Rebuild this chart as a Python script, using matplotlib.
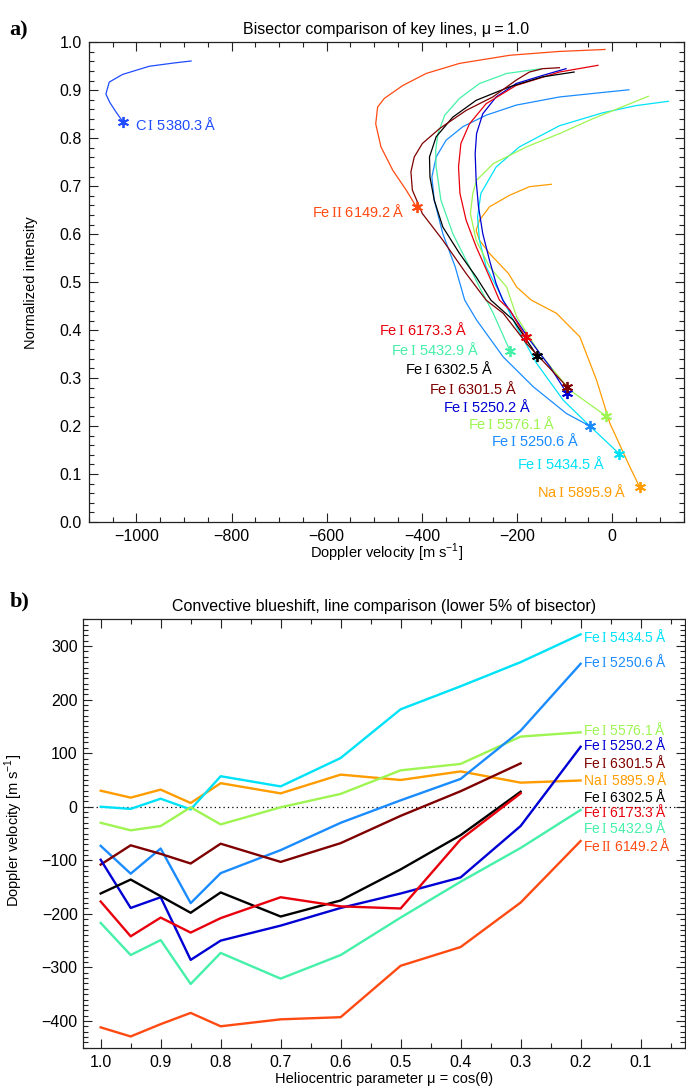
import matplotlib
matplotlib.use('Agg')
import matplotlib.pyplot as plt
from matplotlib.ticker import MultipleLocator, FormatStrFormatter

plt.rcParams['font.family'] = ['Liberation Sans', 'DejaVu Sans']
plt.rcParams['mathtext.fontset'] = 'custom'
plt.rcParams['mathtext.rm'] = 'Liberation Serif'
plt.rcParams['mathtext.sf'] = 'Liberation Sans'
plt.rcParams['axes.unicode_minus'] = True

# ---------------- Panel a: bisectors at mu = 1.0 ----------------
ci_v = [-1028, -1043, -1056, -1064, -1057, -1029, -973, -920, -885]
ci_I = [0.834, 0.855, 0.875, 0.892, 0.917, 0.933, 0.950, 0.957, 0.961]

fe2_v = [-411, -433, -461, -486, -497, -493, -479, -440, -391, -321, -215, -110, -15]
fe2_I = [0.656, 0.692, 0.733, 0.782, 0.830, 0.865, 0.883, 0.910, 0.935, 0.956, 0.973, 0.981, 0.985]

fe6173_v = [-182, -215, -237, -258, -286, -307, -320, -323, -318, -300, -265, -202, -111, -30]
fe6173_I = [0.385, 0.442, 0.4625, 0.511, 0.574, 0.629, 0.685, 0.740, 0.789, 0.830, 0.872, 0.910, 0.938, 0.952]

fe5432_v = [-215, -250, -279, -300, -335, -360, -370, -371, -366, -352, -321, -279, -222, -149]
fe5432_I = [0.357, 0.435, 0.490, 0.532, 0.601, 0.671, 0.740, 0.775, 0.810, 0.848, 0.883, 0.914, 0.935, 0.945]

fe6302_v = [-158, -208, -255, -286, -321, -356, -374, -383, -384, -370, -335, -286, -216, -146, -80]
fe6302_I = [0.347, 0.421, 0.4625, 0.511, 0.560, 0.615, 0.671, 0.719, 0.761, 0.803, 0.844, 0.879, 0.907, 0.928, 0.938]

fe6301_v = [-95, -180, -229, -265, -307, -356, -399, -420, -423, -416, -399, -363, -307, -251, -202, -174, -146, -111]
fe6301_I = [0.282, 0.372, 0.435, 0.4625, 0.518, 0.5875, 0.643, 0.692, 0.730, 0.761, 0.789, 0.820, 0.858, 0.886, 0.921, 0.938, 0.945, 0.947]

fe52502_v = [-95, -131, -173, -230, -244, -258, -272, -281, -286, -288, -285, -272, -244, -202, -146, -97]
fe52502_I = [0.268, 0.324, 0.379, 0.4625, 0.497, 0.546, 0.601, 0.657, 0.7125, 0.768, 0.810, 0.851, 0.886, 0.914, 0.931, 0.945]

fe5576_v = [-13, -89, -152, -201, -222, -258, -286, -298, -293, -285, -250, -180, -110, -40, 30, 76]
fe5576_I = [0.221, 0.275, 0.351, 0.428, 0.490, 0.532, 0.5875, 0.643, 0.685, 0.7125, 0.747, 0.782, 0.810, 0.841, 0.869, 0.8875]

fe52506_v = [-47, -96, -166, -229, -285, -310, -330, -356, -374, -379, -370, -349, -314, -265, -202, -111, -34, 35]
fe52506_I = [0.200, 0.226, 0.282, 0.344, 0.421, 0.4625, 0.532, 0.601, 0.671, 0.719, 0.761, 0.796, 0.824, 0.848, 0.869, 0.886, 0.894, 0.901]

fe5434_v = [15, -47, -103, -159, -201, -243, -265, -279, -283, -276, -244, -195, -111, -20, 50, 118]
fe5434_I = [0.142, 0.200, 0.254, 0.331, 0.407, 0.490, 0.532, 0.5875, 0.636, 0.685, 0.740, 0.782, 0.826, 0.853, 0.868, 0.877]

na_v = [58, 37, -5, -33, -68, -117, -170, -201, -218, -258, -279, -286, -279, -258, -216, -174, -128]
na_I = [0.072, 0.115, 0.206, 0.296, 0.386, 0.435, 0.4625, 0.490, 0.518, 0.560, 0.5875, 0.608, 0.629, 0.657, 0.681, 0.699, 0.704]

# line labels and colours
lbl_ci = 'C$\\,\\mathrm{I}$ 5380.3\u2009Å'
lbl_fe2 = 'Fe$\\,\\mathrm{II}$ 6149.2\u2009Å'
lbl_6173 = 'Fe$\\,\\mathrm{I}$ 6173.3\u2009Å'
lbl_5432 = 'Fe$\\,\\mathrm{I}$ 5432.9\u2009Å'
lbl_6302 = 'Fe$\\,\\mathrm{I}$ 6302.5\u2009Å'
lbl_6301 = 'Fe$\\,\\mathrm{I}$ 6301.5\u2009Å'
lbl_52502 = 'Fe$\\,\\mathrm{I}$ 5250.2\u2009Å'
lbl_5576 = 'Fe$\\,\\mathrm{I}$ 5576.1\u2009Å'
lbl_52506 = 'Fe$\\,\\mathrm{I}$ 5250.6\u2009Å'
lbl_5434 = 'Fe$\\,\\mathrm{I}$ 5434.5\u2009Å'
lbl_na = 'Na$\\,\\mathrm{I}$ 5895.9\u2009Å'

c_ci = '#1f4cff'
c_fe2 = '#ff4a12'
c_6173 = '#e8000c'
c_5432 = '#45f0a8'
c_6302 = '#000000'
c_6301 = '#7f0000'
c_52502 = '#0000d4'
c_5576 = '#9ef552'
c_52506 = '#1a8cff'
c_5434 = '#00e2f8'
c_na = '#ff9c00'

# label positions (layout) for panel a: (velocity, intensity, ha)
pos_a = {
    'ci': (-1003, 0.829, 'left'),
    'fe2': (-437, 0.648, 'right'),
    '6173': (-306, 0.401, 'right'),
    '5432': (-280, 0.360, 'right'),
    '6302': (-250, 0.320, 'right'),
    '6301': (-201, 0.2785, 'right'),
    '52502': (-171, 0.2417, 'right'),
    '5576': (-120, 0.2056, 'right'),
    '52506': (-71, 0.169, 'right'),
    '5434': (-15, 0.122, 'right'),
    'na': (29, 0.063, 'right'),
}

# ---------------- Panel b: convective blueshift vs mu ----------------
mu = [1.0, 0.95, 0.9, 0.85, 0.8, 0.7, 0.6, 0.5, 0.4, 0.3, 0.2]
b_fe2 = [-412, -429, -406, -385, -410, -397, -393, -297, -262, -179, -64]
b_5432 = [-217, -277, -249, -331, -273, -321, -277, -207, -140, -77, -6]
b_6173 = [-177, -242, -207, -235, -208, -169, -186, -190, -61, 25]
b_6302 = [-162, -136, -167, -198, -160, -205, -175, -117, -53, 28]
b_52502 = [-99, -189, -169, -286, -250, -222, -189, -162, -132, -36, 112]
b_6301 = [-108, -72, -88, -106, -69, -103, -68, -17, 29, 81]
b_52506 = [-73, -125, -78, -180, -124, -81, -30, 12, 52, 142, 267]
b_5576 = [-30, -44, -36, -1, -33, -1, 24, 68, 80, 131, 139]
b_5434 = [0, -4, 15, -5, 57, 38, 91, 182, 225, 270, 322]
b_na = [30, 17, 32, 7, 44, 25, 60, 50, 66, 45, 49]

# label y positions (layout) for panel b
lab_b_x = 0.196
lab_b_y = {
    '5434': 318, '52506': 271, '5576': 145, '52502': 116, '6301': 83,
    'na': 50, '6302': 20, '6173': -9, '5432': -39, 'fe2': -73,
}

lines_a = [
    ('ci', ci_v, ci_I, c_ci, lbl_ci),
    ('fe2', fe2_v, fe2_I, c_fe2, lbl_fe2),
    ('na', na_v, na_I, c_na, lbl_na),
    ('5434', fe5434_v, fe5434_I, c_5434, lbl_5434),
    ('5576', fe5576_v, fe5576_I, c_5576, lbl_5576),
    ('52506', fe52506_v, fe52506_I, c_52506, lbl_52506),
    ('5432', fe5432_v, fe5432_I, c_5432, lbl_5432),
    ('52502', fe52502_v, fe52502_I, c_52502, lbl_52502),
    ('6173', fe6173_v, fe6173_I, c_6173, lbl_6173),
    ('6302', fe6302_v, fe6302_I, c_6302, lbl_6302),
    ('6301', fe6301_v, fe6301_I, c_6301, lbl_6301),
]

lines_b = [
    ('fe2', b_fe2, c_fe2, lbl_fe2),
    ('5432', b_5432, c_5432, lbl_5432),
    ('na', b_na, c_na, lbl_na),
    ('5434', b_5434, c_5434, lbl_5434),
    ('5576', b_5576, c_5576, lbl_5576),
    ('52506', b_52506, c_52506, lbl_52506),
    ('6301', b_6301, c_6301, lbl_6301),
    ('52502', b_52502, c_52502, lbl_52502),
    ('6302', b_6302, c_6302, lbl_6302),
    ('6173', b_6173, c_6173, lbl_6173),
]

star = (6, 2, 0)
axis_col = '#222222'

fig = plt.figure(figsize=(6.86, 10.90), dpi=100)


def style_axes(ax):
    for s in ax.spines.values():
        s.set_color(axis_col)
        s.set_linewidth(0.9)
    ax.tick_params(which='both', direction='in', top=True, right=True,
                   color=axis_col, width=0.8, labelsize=11.5, pad=5)
    ax.tick_params(which='major', length=6.5)
    ax.tick_params(which='minor', length=3.5)


# Panel a
axa = fig.add_axes([0.1294, 0.5211, 0.8671, 0.4401])
for key, v, I, col, lbl in lines_a:
    axa.plot(v, I, color=col, lw=0.9, zorder=2)
    axa.plot(v[0], I[0], marker=star, ms=8, mew=1.3, color=col, zorder=3)
    tx, ty, ha = pos_a[key]
    axa.text(tx, ty, lbl, color=col, fontsize=10.5, ha=ha, va='center')

axa.set_xlim(-1100, 150)
axa.set_ylim(0.0, 1.0)
axa.xaxis.set_major_locator(MultipleLocator(200))
axa.xaxis.set_minor_locator(MultipleLocator(50))
axa.yaxis.set_major_locator(MultipleLocator(0.1))
axa.yaxis.set_minor_locator(MultipleLocator(0.02))
axa.yaxis.set_major_formatter(FormatStrFormatter('%.1f'))
style_axes(axa)
axa.set_title('Bisector comparison of key lines, \u03bc\u2009=\u20091.0', fontsize=11.5, pad=6)
axa.set_xlabel('Doppler velocity [m s$^{\\mathsf{-1}}$]', fontsize=10.5)
axa.set_ylabel('Normalized intensity', fontsize=10.5)
axa.xaxis.set_label_coords(0.5, -0.042)
axa.yaxis.set_label_coords(-0.0854, 0.5)
axa.xaxis.label.set_va('top')

# Panel b
axb = fig.add_axes([0.1214, 0.0388, 0.8771, 0.3930])
axb.axhline(0, color='black', lw=0.9, ls=(0, (1, 2.5)), zorder=1)
for key, vals, col, lbl in lines_b:
    axb.plot(mu[:len(vals)], vals, color=col, lw=1.7, zorder=2)
    axb.text(lab_b_x, lab_b_y[key], lbl, color=col, fontsize=10, ha='left', va='center')

axb.set_xlim(1.029, 0.026)
axb.set_ylim(-450, 350)
axb.xaxis.set_major_locator(MultipleLocator(0.1))
axb.xaxis.set_minor_locator(MultipleLocator(0.05))
axb.xaxis.set_major_formatter(FormatStrFormatter('%.1f'))
axb.yaxis.set_major_locator(MultipleLocator(100))
axb.yaxis.set_minor_locator(MultipleLocator(10))
style_axes(axb)
axb.tick_params(axis='y', which='both', pad=4)
axb.set_title('Convective blueshift, line comparison (lower 5% of bisector)', fontsize=11.5, pad=6)
axb.set_xlabel('Heliocentric parameter \u03bc = cos(\u03b8)', fontsize=10.5)
axb.set_ylabel('Doppler velocity [m s$^{\\mathsf{-1}}$]', fontsize=10.5)
axb.xaxis.set_label_coords(0.5, -0.057)
axb.yaxis.set_label_coords(-0.097, 0.508)
axb.xaxis.label.set_va('top')

# panel letters
fig.text(0.014, 0.972, 'a)', fontsize=16, fontweight='bold', family='Liberation Serif', va='center')
fig.text(0.014, 0.448, 'b)', fontsize=16, fontweight='bold', family='Liberation Serif', va='center')

fig.savefig('out.png', dpi=100)
